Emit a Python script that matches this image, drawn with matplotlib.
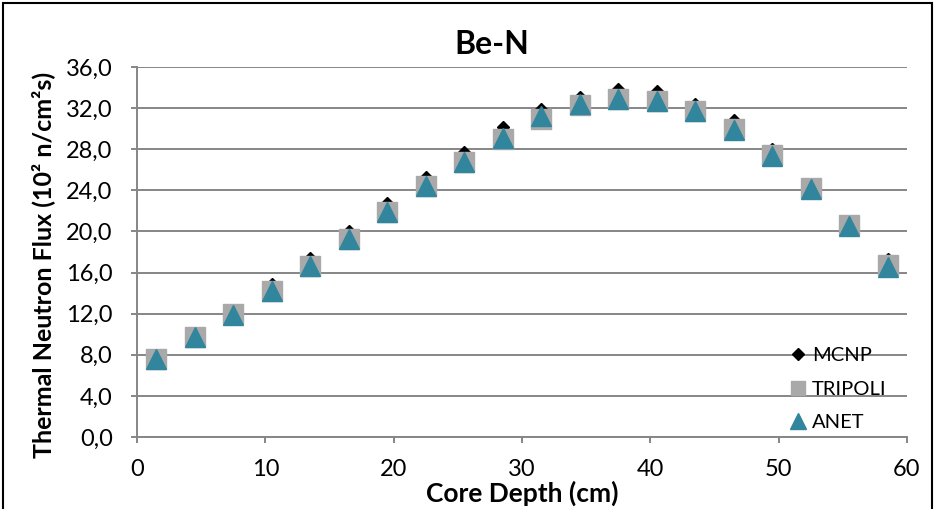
import matplotlib
matplotlib.use("Agg")
import matplotlib.pyplot as plt
from matplotlib.lines import Line2D
from matplotlib.patches import Rectangle
from matplotlib.ticker import FuncFormatter, MultipleLocator

plt.rcParams['font.family'] = ['Lato', 'DejaVu Sans']

depth = [1.5, 4.5, 7.5, 10.5, 13.5, 16.5, 19.5, 22.5, 25.5, 28.5,
         31.5, 34.5, 37.5, 40.5, 43.5, 46.5, 49.5, 52.5, 55.5, 58.5]
mcnp = [7.8, 10.1, 12.4, 14.9, 17.4, 20.0, 22.8, 25.3, 27.7, 30.2,
        31.9, 33.1, 33.85, 33.7, 32.4, 30.8, 28.0, 24.4, 20.6, 17.3]
tripoli = [7.55, 9.7, 11.95, 14.2, 16.6, 19.3, 21.85, 24.4, 26.8, 29.0,
           30.9, 32.33, 32.9, 32.7, 31.7, 30.0, 27.4, 24.25, 20.6, 16.75]
anet = [7.6, 9.7, 11.9, 14.2, 16.6, 19.25, 21.9, 24.4, 26.8, 29.1,
        31.2, 32.4, 32.9, 32.65, 31.7, 29.9, 27.3, 24.1, 20.5, 16.5]

series_names = ["MCNP", "TRIPOLI", "ANET"]
title = "Be-N"
xlabel = "Core Depth (cm)"
ylabel = "Thermal Neutron Flux (10² n/cm²s)"

W, H = 936, 509
fig = plt.figure(figsize=(W / 100, H / 100), dpi=100)
ax = fig.add_axes([137 / W, 72 / H, 770 / W, 370 / H])

grid_c = "#868686"
teal = "#31859C"
grey = "#A9A9A9"

ax.plot(depth, mcnp, linestyle="none", marker="D", ms=6.2, color="black", zorder=3)
ax.plot(depth, tripoli, linestyle="none", marker="s", ms=14.2, color=grey, zorder=4)
ax.plot(depth, anet, linestyle="none", marker="^", ms=14.6, color=teal, zorder=5)

ax.set_xlim(0, 60)
ax.set_ylim(0, 36)
ax.xaxis.set_major_locator(MultipleLocator(10))
ax.yaxis.set_major_locator(MultipleLocator(4))
ax.yaxis.set_major_formatter(FuncFormatter(lambda v, p: f"{v:.1f}".replace(".", ",")))
ax.grid(axis="y", color=grid_c, linewidth=1.4, zorder=0)
ax.set_axisbelow(True)
for s in ["top", "right"]:
    ax.spines[s].set_visible(False)
for s in ["left", "bottom"]:
    ax.spines[s].set_color(grid_c)
    ax.spines[s].set_linewidth(1.4)
ax.tick_params(axis="both", colors=grid_c, width=1.4, length=4.5, labelsize=17,
               labelcolor="black")
ax.tick_params(axis="y", pad=13)
ax.tick_params(axis="x", pad=11)

ax.set_xlabel(xlabel, fontsize=19, fontweight="bold")
ax.xaxis.set_label_coords(0.5, -0.118)
ax.xaxis.label.set_va("top")
ax.set_ylabel(ylabel, fontsize=18, fontweight="bold")
ax.yaxis.set_label_coords(-0.106, 0.465)
fig.text(492 / W, 1 - 45 / H, title, fontsize=23, fontweight="bold",
         ha="center", va="center")

handles = [
    Line2D([], [], linestyle="none", marker="D", ms=6.2, color="black"),
    Line2D([], [], linestyle="none", marker="s", ms=9.5, color=grey),
    Line2D([], [], linestyle="none", marker="^", ms=11, color=teal),
]
leg = ax.legend(handles, series_names, loc="center left",
                bbox_to_anchor=(0.848, (437 - 389) / 370), frameon=False,
                fontsize=14.5, handlelength=0.8, handletextpad=0.3,
                labelspacing=0.8, borderpad=0, borderaxespad=0)

fig.patches.append(Rectangle((3 / W, -0.05), (932 - 3) / W, 1.05 - 3 / H,
                             transform=fig.transFigure, fill=False,
                             edgecolor="black", linewidth=1.5))

fig.savefig("out.png", dpi=100)
